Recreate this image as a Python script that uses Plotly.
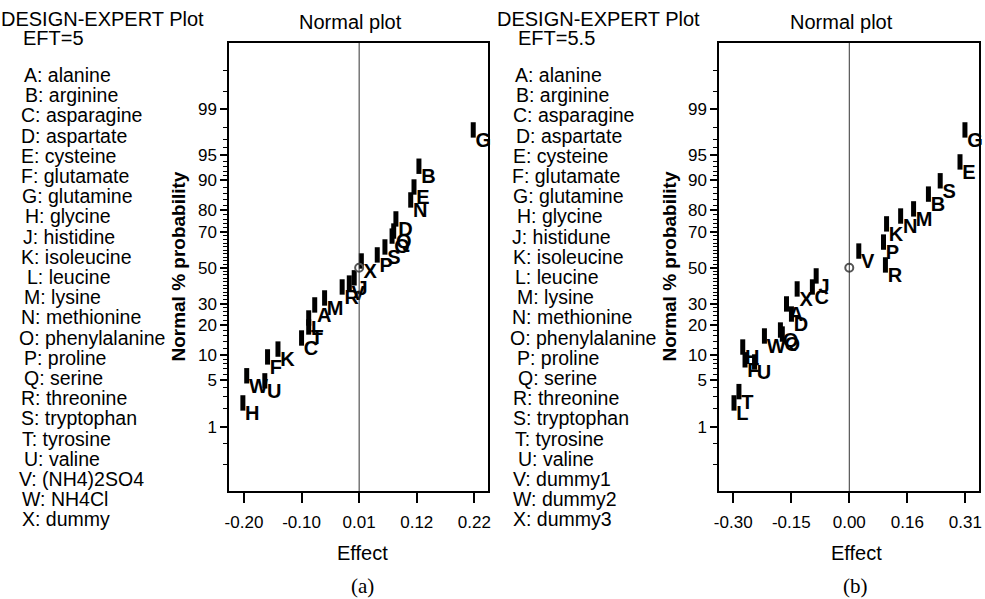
import plotly.graph_objects as go
from statistics import NormalDist

# ---------------- data ----------------
factor_names_a = ["A: alanine", "B: arginine", "C: asparagine", "D: aspartate", "E: cysteine",
                  "F: glutamate", "G: glutamine", "H: glycine", "J: histidine", "K: isoleucine",
                  "L: leucine", "M: lysine", "N: methionine", "O: phenylalanine", "P: proline",
                  "Q: serine", "R: threonine", "S: tryptophan", "T: tyrosine", "U: valine",
                  "V: (NH4)2SO4", "W: NH4Cl", "X: dummy"]
factor_names_b = ["A: alanine", "B: arginine", "C: asparagine", "D: aspartate", "E: cysteine",
                  "F: glutamate", "G: glutamine", "H: glycine", "J: histidune", "K: isoleucine",
                  "L: leucine", "M: lysine", "N: methionine", "O: phenylalanine", "P: proline",
                  "Q: serine", "R: threonine", "S: tryptophan", "T: tyrosine", "U: valine",
                  "V: dummy1", "W: dummy2", "X: dummy3"]

letters_a = ["H", "W", "U", "F", "K", "C", "T", "L", "A", "M", "R", "V", "J",
             "X", "P", "S", "O", "Q", "D", "N", "E", "B", "G"]
effect_a = [-0.202, -0.195, -0.162, -0.157, -0.138, -0.095, -0.082, -0.082, -0.071, -0.053,
            -0.021, -0.008, 0.001, 0.014, 0.043, 0.057, 0.070, 0.073, 0.077, 0.104, 0.110,
            0.119, 0.218]
prob_a = [2.4, 5.7, 4.9, 9.6, 11.7, 15.2, 19.3, 23.1, 29.3, 32.9, 38.9, 41.1, 44.1,
          53.9, 57.4, 61.9, 67.8, 70.4, 76.2, 83.9, 88.1, 93.1, 97.8]

letters_b = ["L", "T", "F", "U", "H", "W", "O", "Q", "D", "A", "X", "C", "J",
             "R", "V", "P", "K", "N", "M", "B", "S", "E", "G"]
effect_b = [-0.298, -0.285, -0.269, -0.244, -0.275, -0.218, -0.171, -0.176, -0.147, -0.160,
            -0.132, -0.092, -0.082, 0.100, 0.030, 0.095, 0.103, 0.140, 0.174, 0.213, 0.244,
            0.296, 0.309]
prob_b = [2.4, 3.5, 8.9, 8.4, 12.3, 15.9, 16.6, 18.1, 24.9, 29.8, 37.8, 38.9, 45.2,
          51.6, 59.6, 64.6, 73.9, 77.5, 80.5, 85.9, 89.8, 93.9, 97.8]

center_a = (0.01, 50)
center_b = (0.005, 50)

xtick_vals_a = [-0.20, -0.095, 0.01, 0.115, 0.22]
xtick_text_a = ["-0.20", "-0.10", "0.01", "0.12", "0.22"]
xtick_vals_b = [-0.30, -0.1475, 0.005, 0.1575, 0.31]
xtick_text_b = ["-0.30", "-0.15", "0.00", "0.16", "0.31"]
ytick_pct = [1, 5, 10, 20, 30, 50, 70, 80, 90, 95, 99]
ytick_text = ["1", "5", "10", "20", "30", "50", "70", "80", "90", "95", "99"]
minor_pct = [0.2, 0.5, 2, 3, 4, 6, 7, 8, 9, 12, 14, 16, 18, 22, 24, 26, 28, 32, 34, 36, 38, 40,
             42, 44, 46, 48, 52, 54, 56, 58, 60, 62, 64, 66, 68, 72, 74, 76, 78, 82, 84, 86, 88,
             91, 92, 93, 94, 96, 97, 98, 99.5, 99.8]

# ---------------- helpers ----------------
nd = NormalDist()
def z(p):
    return nd.inv_cdf(p / 100.0)

W, H = 985, 599
def fx(x):
    return x / W
def fy(y):
    return 1 - y / H

SANS = "Liberation Sans, Arial, sans-serif"

fig = go.Figure()

def add_panel(letters, effects, probs, center, xa, ya):
    zs = [z(p) for p in probs]
    # point markers (short vertical bars)
    fig.add_trace(go.Scatter(
        x=effects, y=zs, mode="markers",
        marker=dict(symbol="line-ns", size=11, color="black", line=dict(width=5, color="black")),
        xaxis=xa, yaxis=ya, cliponaxis=False, showlegend=False, hoverinfo="skip"))
    # letter labels just below-right of each point
    fig.add_trace(go.Scatter(
        x=effects, y=zs, mode="markers+text", text=letters, textposition="bottom right",
        marker=dict(size=2, color="rgba(0,0,0,0)"),
        textfont=dict(family=SANS, size=20, color="black", weight="bold"),
        xaxis=xa, yaxis=ya, cliponaxis=False, showlegend=False, hoverinfo="skip"))
    fig.add_trace(go.Scatter(
        x=[center[0]], y=[z(center[1])], mode="markers",
        marker=dict(symbol="circle-open", size=8, color="#555", line=dict(width=2)),
        xaxis=xa, yaxis=ya, showlegend=False, hoverinfo="skip"))

add_panel(letters_a, effect_a, prob_a, center_a, "x", "y")
add_panel(letters_b, effect_b, prob_b, center_b, "x2", "y2")

ydom = [108 / H, 556 / H]
yrange = [-3.265, 3.285]

def xaxis_cfg(dom, rng, tv, tt, anchor):
    return dict(domain=dom, range=rng, tickvals=tv, ticktext=tt, ticks="outside", ticklen=10,
                tickwidth=1.5, tickcolor="black", showline=True, mirror=True, linecolor="black",
                linewidth=1.5, showgrid=False, zeroline=False, anchor=anchor,
                ticklabelstandoff=5,
                tickfont=dict(family=SANS, size=17, color="black"))

def yaxis_cfg(anchor):
    return dict(domain=ydom, range=yrange, tickvals=[z(p) for p in ytick_pct], ticktext=ytick_text,
                ticks="outside", ticklen=7, tickwidth=1.5, tickcolor="black", showline=True,
                mirror=True, linecolor="black", linewidth=1.5, showgrid=False, zeroline=False,
                anchor=anchor, tickfont=dict(family=SANS, size=17, color="black"),
                minor=dict(tickmode="array", tickvals=[z(p) for p in minor_pct], ticks="outside",
                           ticklen=4, tickwidth=1, tickcolor="black", showgrid=False))

fig.update_layout(
    width=W, height=H, margin=dict(l=0, r=0, t=0, b=0),
    paper_bgcolor="white", plot_bgcolor="white",
    xaxis=xaxis_cfg([226 / W, 487 / W], [-0.227, 0.245], xtick_vals_a, xtick_text_a, "y"),
    xaxis2=xaxis_cfg([720 / W, 982 / W], [-0.337, 0.346], xtick_vals_b, xtick_text_b, "y2"),
    yaxis=yaxis_cfg("x"),
    yaxis2=yaxis_cfg("x2"),
)

# center vertical lines
for xr, yr, xv in (("x", "y domain", center_a[0]), ("x2", "y2 domain", center_b[0])):
    fig.add_shape(type="line", xref=xr, yref=yr, x0=xv, x1=xv, y0=0, y1=1,
                  line=dict(color="#333", width=1))

ann = []
LEFT_PAD = 8  # annotation text is drawn a few px right of its anchor
def text(x, y, s, size=17, family=SANS, xanchor="left", angle=0, bold=False):
    if xanchor == "left":
        x = x - LEFT_PAD
    ann.append(dict(x=fx(x), y=fy(y), xref="paper", yref="paper", text=s, showarrow=False,
                    xanchor=xanchor, yanchor="middle", textangle=angle,
                    font=dict(family=family, size=size, color="black",
                              weight="bold" if bold else "normal")))

# headers
text(2, 19, "DESIGN-EXPERT Plot", 20)
text(24, 38, "EFT=5", 20)
text(502, 19, "DESIGN-EXPERT Plot", 20)
text(523, 38, "EFT=5.5", 20)

indent_a = [25, 26, 22, 22, 22, 22, 23, 26, 24, 22, 28, 25, 22, 20, 25, 25, 22, 22, 23, 25, 20, 23, 23]
indent_b = [520, 521, 518, 521, 518, 517, 518, 522, 517, 518, 520, 522, 517, 515, 522, 523, 518,
            518, 520, 523, 518, 518, 518]
for i, name in enumerate(factor_names_a):
    text(indent_a[i], 75 + i * 20.2, name, 19.5)
for i, name in enumerate(factor_names_b):
    text(indent_b[i], 75 + i * 20.2, name, 19.5)

# titles
text(348, 22, "Normal plot", 20, xanchor="center")
text(843, 22, "Normal plot", 20, xanchor="center")
text(360, 553, "Effect", 20, xanchor="center")
text(858, 553, "Effect", 20, xanchor="center")
text(360, 586, "(a)", 21, family="Liberation Serif, Times New Roman, serif", xanchor="center")
text(857, 586, "(b)", 21, family="Liberation Serif, Times New Roman, serif", xanchor="center")
text(174, 267, "Normal % probability", 19, xanchor="center", angle=-90, bold=True)
text(669, 267, "Normal % probability", 19, xanchor="center", angle=-90, bold=True)

fig.update_layout(annotations=ann)
fig.write_html("out.html", config={"displayModeBar": False},
               post_script="document.body.style.margin='0';")
